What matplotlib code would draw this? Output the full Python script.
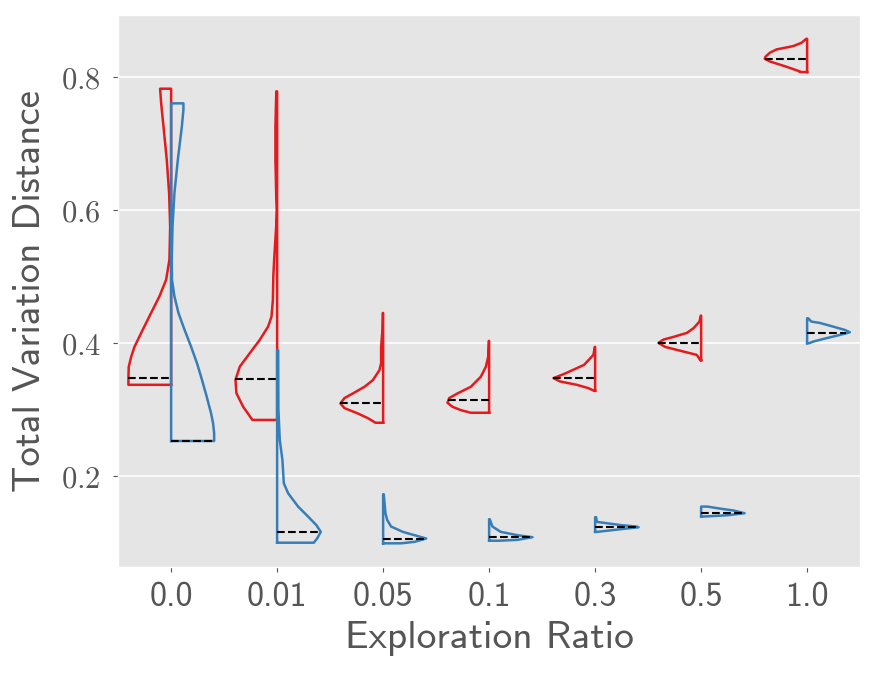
import numpy as np
import matplotlib
matplotlib.use("Agg")
import matplotlib.pyplot as plt
from matplotlib.ticker import FuncFormatter

# exploration ratios on the x axis
ratios = ["0.0", "0.01", "0.05", "0.1", "0.3", "0.5", "1.0"]

# red half (left): TVD values (bottom -> top) and half-violin widths
red_tvd = [
    [0.337, 0.347, 0.364, 0.379, 0.394, 0.420, 0.445, 0.470, 0.495, 0.525, 0.575, 0.625, 0.675, 0.725, 0.760, 0.782],
    [0.2842, 0.3042, 0.3244, 0.3444, 0.3644, 0.3845, 0.4045, 0.4245, 0.4395, 0.4647, 0.500, 0.525, 0.575, 0.600, 0.625, 0.675, 0.725, 0.778],
    [0.280, 0.287, 0.294, 0.302, 0.309, 0.317, 0.324, 0.334, 0.344, 0.359, 0.369, 0.394, 0.420, 0.445],
    [0.295, 0.299, 0.304, 0.310, 0.317, 0.324, 0.334, 0.349, 0.364, 0.379, 0.403],
    [0.328, 0.332, 0.337, 0.342, 0.347, 0.354, 0.362, 0.367, 0.374, 0.382, 0.394],
    [0.374, 0.382, 0.387, 0.394, 0.400, 0.405, 0.409, 0.415, 0.422, 0.432, 0.441],
    [0.807, 0.808, 0.815, 0.823, 0.827, 0.830, 0.836, 0.841, 0.846, 0.851, 0.857],
]
red_density = [
    [0.403, 0.403, 0.400, 0.377, 0.346, 0.267, 0.189, 0.110, 0.047, 0.016, 0.009, 0.019, 0.041, 0.072, 0.094, 0.104],
    [0.233, 0.321, 0.384, 0.393, 0.352, 0.258, 0.164, 0.085, 0.053, 0.040, 0.036, 0.028, 0.009, 0.003, 0.009, 0.016, 0.016, 0.008],
    [0.072, 0.145, 0.239, 0.365, 0.403, 0.365, 0.286, 0.176, 0.097, 0.035, 0.019, 0.019, 0.006, 0.003],
    [0.173, 0.267, 0.346, 0.393, 0.377, 0.299, 0.173, 0.079, 0.031, 0.009, 0.003],
    [0.010, 0.063, 0.173, 0.330, 0.393, 0.283, 0.173, 0.104, 0.063, 0.016, 0.003],
    [0.008, 0.041, 0.167, 0.340, 0.403, 0.355, 0.261, 0.135, 0.072, 0.016, 0.003],
    [0.069, 0.069, 0.195, 0.352, 0.400, 0.393, 0.352, 0.289, 0.132, 0.053, 0.008],
]
red_median = [0.347, 0.345, 0.309, 0.314, 0.347, 0.400, 0.826]
red_median_w = [0.403, 0.393, 0.403, 0.385, 0.393, 0.403, 0.400]

# blue half (right)
blue_tvd = [
    [0.2526, 0.264, 0.279, 0.294, 0.319, 0.344, 0.369, 0.394, 0.420, 0.445, 0.470, 0.495, 0.525, 0.575, 0.625, 0.675, 0.725, 0.750, 0.760],
    [0.0997, 0.106, 0.116, 0.126, 0.139, 0.154, 0.174, 0.189, 0.224, 0.254, 0.300, 0.389],
    [0.0988, 0.101, 0.106, 0.111, 0.116, 0.124, 0.134, 0.144, 0.1725],
    [0.1027, 0.104, 0.108, 0.111, 0.116, 0.124, 0.135],
    [0.116, 0.120, 0.123, 0.124, 0.126, 0.129, 0.131, 0.138],
    [0.139, 0.141, 0.144, 0.148, 0.1514, 0.154],
    [0.3996, 0.402, 0.407, 0.412, 0.4145, 0.416, 0.4195, 0.4245, 0.430, 0.432, 0.437],
]
blue_density = [
    [0.406, 0.406, 0.396, 0.377, 0.336, 0.292, 0.245, 0.189, 0.126, 0.069, 0.031, 0.008, 0.006, 0.013, 0.031, 0.063, 0.101, 0.116, 0.116],
    [0.346, 0.377, 0.412, 0.371, 0.292, 0.198, 0.104, 0.063, 0.050, 0.025, 0.012, 0.010],
    [0.170, 0.296, 0.406, 0.296, 0.186, 0.075, 0.038, 0.022, 0.006],
    [0.100, 0.267, 0.409, 0.267, 0.110, 0.031, 0.006],
    [0.020, 0.240, 0.410, 0.390, 0.250, 0.110, 0.016, 0.010],
    [0.020, 0.250, 0.410, 0.310, 0.160, 0.060],
    [0.020, 0.057, 0.180, 0.310, 0.370, 0.403, 0.355, 0.245, 0.120, 0.040, 0.010],
]
blue_median = [0.253, 0.116, 0.106, 0.108, 0.123, 0.144, 0.4145]
blue_median_w = [0.406, 0.410, 0.406, 0.409, 0.410, 0.410, 0.370]

plt.style.use("ggplot")
plt.rcParams["mathtext.fontset"] = "cm"

RED = "#e41a1c"
BLUE = "#377eb8"

fig = plt.figure(figsize=(8.75, 6.75), dpi=100)
ax = fig.add_axes([0.135, 0.16, 0.848, 0.818])


def half_violin(pos, vals, dens, side, color):
    vals = np.asarray(vals)
    dens = np.asarray(dens) * side
    xs = np.concatenate([[pos], pos + dens, [pos, pos]])
    ys = np.concatenate([[vals[0]], vals, [vals[-1], vals[0]]])
    ax.plot(xs, ys, color=color, lw=1.8, solid_joinstyle="round")


for i in range(len(ratios)):
    half_violin(i, red_tvd[i], red_density[i], -1, RED)
    half_violin(i, blue_tvd[i], blue_density[i], 1, BLUE)
    ax.plot([i - red_median_w[i], i], [red_median[i]] * 2, "k--", lw=1.5)
    ax.plot([i, i + blue_median_w[i]], [blue_median[i]] * 2, "k--", lw=1.5)

ax.set_xlim(-0.5, 6.5)
ax.set_ylim(0.0632, 0.893)
ax.set_xticks(range(len(ratios)))
ax.set_xticklabels(ratios, fontsize=24.5, family="cmss10")
ax.set_yticks([0.2, 0.4, 0.6, 0.8])
ax.yaxis.set_major_formatter(FuncFormatter(lambda v, p: r"$%.1f$" % v))
ax.tick_params(axis="y", labelsize=22, pad=9)
ax.tick_params(axis="x", pad=7)
ax.xaxis.grid(False)
ax.yaxis.grid(True, color="white", lw=1.2)

ax.set_xlabel("Exploration Ratio", fontsize=28.5, family="cmss10", color="#555555", labelpad=6)
ax.set_ylabel("Total Variation Distance", fontsize=28, family="cmss10", color="#555555", labelpad=9)

fig.savefig("out.png", dpi=100)
